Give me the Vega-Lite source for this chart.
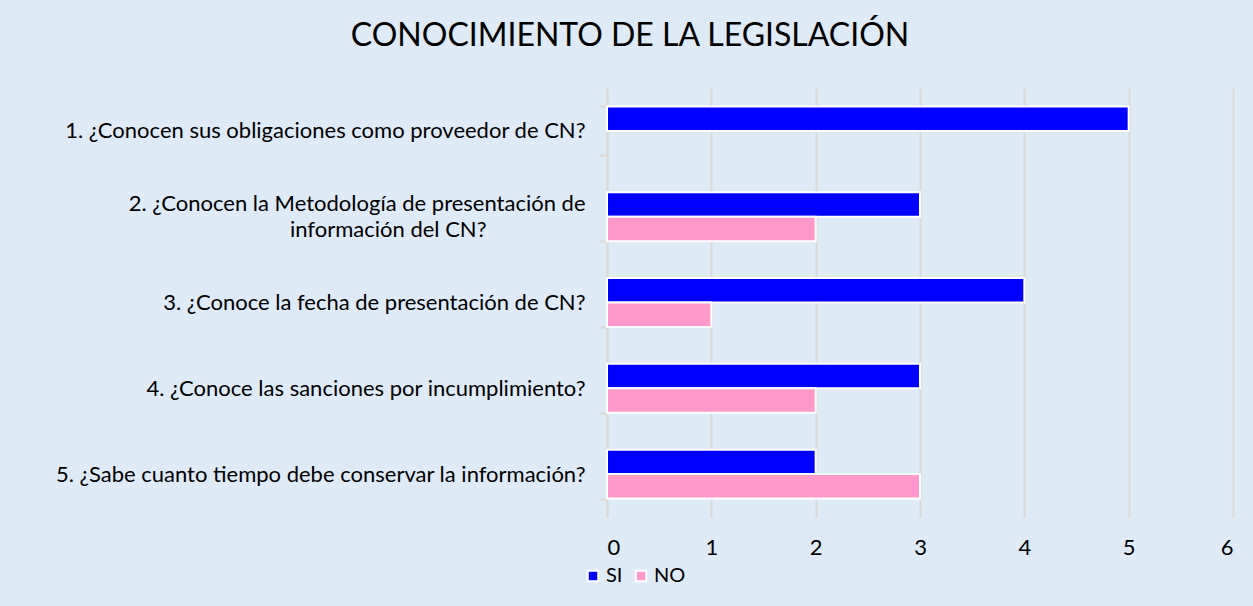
{
  "$schema": "https://vega.github.io/schema/vega-lite/v6.json",
  "width": 626,
  "height": 429,
  "autosize": "none",
  "padding": {"left": 607, "top": 88, "right": 20, "bottom": 89},
  "background": "#DEEAF6",
  "title": {"text": "CONOCIMIENTO DE LA LEGISLACIÓN", "font": "Lato", "fontSize": 32, "fontWeight": "normal", "color": "#000000", "anchor": "middle", "dx": -290, "offset": 24},
  "data": {"values": [
    {"q": "1. ¿Conocen sus obligaciones como proveedor de CN?", "serie": "SI", "n": 5},
    {"q": "2. ¿Conocen la Metodología de presentación de|información del CN?", "serie": "SI", "n": 3},
    {"q": "2. ¿Conocen la Metodología de presentación de|información del CN?", "serie": "NO", "n": 2},
    {"q": "3. ¿Conoce la fecha de presentación de CN?", "serie": "SI", "n": 4},
    {"q": "3. ¿Conoce la fecha de presentación de CN?", "serie": "NO", "n": 1},
    {"q": "4. ¿Conoce las sanciones por incumplimiento?", "serie": "SI", "n": 3},
    {"q": "4. ¿Conoce las sanciones por incumplimiento?", "serie": "NO", "n": 2},
    {"q": "5. ¿Sabe cuanto tiempo debe conservar la información?", "serie": "SI", "n": 2},
    {"q": "5. ¿Sabe cuanto tiempo debe conservar la información?", "serie": "NO", "n": 3}
  ]},
  "mark": {"type": "bar", "stroke": "white", "strokeWidth": 2},
  "encoding": {
    "y": {
      "field": "q", "type": "nominal", "sort": null,
      "scale": {"paddingInner": 0.43, "paddingOuter": 0.215},
      "axis": {
        "title": null, "grid": false,
        "domainColor": "#D9D9D9", "domainWidth": 2,
        "tickColor": "#D9D9D9", "tickWidth": 2, "tickSize": 8, "tickBand": "extent",
        "labelFont": "Lato", "labelFontSize": 22, "labelColor": "#000000", "labelLimit": 0,
        "labelExpr": "!datum.value ? '' : indexof(datum.value, '|') >= 0 ? [split(datum.value, '|')[0], split(datum.value, '|')[1] + '\u2003\u2003\u2003\u2003\u2003\u2003\u200b'] : datum.value",
        "labelOffset": {"condition": {"test": "datum.value && indexof(datum.value, '|') >= 0", "value": -13}, "value": 0},
        "labelPadding": 14,
        "labelLineHeight": 26
      }
    },
    "yOffset": {"field": "serie", "type": "nominal", "sort": ["SI", "NO"]},
    "x": {
      "field": "n", "type": "quantitative",
      "scale": {"domain": [0, 6], "nice": false},
      "axis": {
        "title": null, "domain": false, "ticks": false,
        "values": [0, 1, 2, 3, 4, 5, 6],
        "gridColor": "#D9D9D9", "gridWidth": 2,
        "labelFont": "Lato", "labelFontSize": 22, "labelColor": "#000000", "labelPadding": 20
      }
    },
    "color": {
      "field": "serie", "type": "nominal",
      "scale": {"domain": ["SI", "NO"], "range": ["#0000FF", "#FF99CC"]},
      "legend": {
        "title": null, "orient": "none", "legendX": -24, "legendY": 478, "direction": "horizontal",
        "symbolType": "square", "symbolSize": 110, "symbolStrokeColor": "white", "symbolStrokeWidth": 2,
        "labelFont": "Lato", "labelFontSize": 20, "labelColor": "#000000", "columnPadding": 8, "labelOffset": 3
      }
    }
  },
  "config": {"view": {"stroke": null}}
}
